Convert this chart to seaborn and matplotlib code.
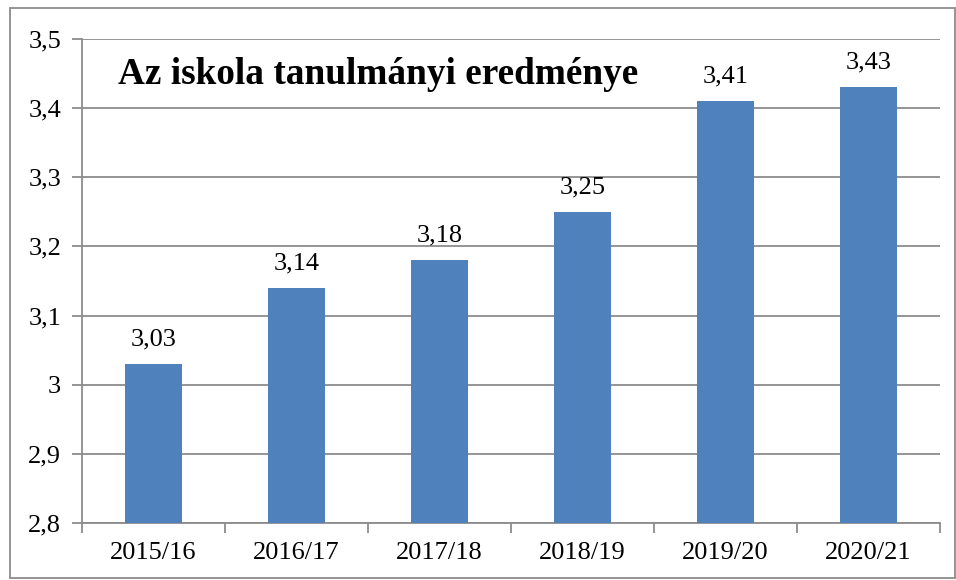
import matplotlib
matplotlib.use("Agg")
import matplotlib.pyplot as plt
import matplotlib.patches as mpatches
import seaborn as sns
import pandas as pd

years = ["2015/16", "2016/17", "2017/18", "2018/19", "2019/20", "2020/21"]
values = [3.03, 3.14, 3.18, 3.25, 3.41, 3.43]
y_ticks = [2.8, 2.9, 3.0, 3.1, 3.2, 3.3, 3.4, 3.5]
y_tick_labels = ["2,8", "2,9", "3", "3,1", "3,2", "3,3", "3,4", "3,5"]
title = "Az iskola tanulmányi eredménye"

sns.set_theme(style="white")
plt.rcParams["font.family"] = ["Liberation Serif", "DejaVu Serif"]

df = pd.DataFrame({"year": years, "value": values})

fig = plt.figure(figsize=(9.56, 5.8), dpi=100)
ax = fig.add_axes([82/956, 1-523/580, (940-82)/956, (523-39)/580])

grid_c = "#8c8c8c"
sns.barplot(data=df, x="year", y="value", color="#4F81BD", saturation=1,
            width=0.395, ax=ax, zorder=3, linewidth=0)

ax.set_ylim(2.8, 3.5)
ax.set_xlim(-0.5, len(years) - 0.5)
ax.set_yticks(y_ticks)
ax.set_yticklabels(y_tick_labels)
for y in y_ticks:
    ax.axhline(y, color=grid_c, lw=1.3, zorder=1)

ax.set_xticks(range(len(years)))
ax.set_xticklabels(years)
ax.set_xticks([i - 0.5 for i in range(len(years) + 1)], minor=True)
ax.tick_params(axis="x", which="major", length=0, labelsize=19, pad=14, colors="black")
ax.tick_params(axis="x", which="minor", length=7, width=1.3, color=grid_c, direction="out")
ax.tick_params(axis="y", which="major", length=7, width=1.3, color=grid_c,
               direction="out", labelsize=19, pad=8, labelcolor="black")
ax.tick_params(axis="both", bottom=True, left=True)
ax.xaxis.set_tick_params(which="minor", bottom=True)

for s in ["top", "right"]:
    ax.spines[s].set_visible(False)
for s in ["left", "bottom"]:
    ax.spines[s].set_color(grid_c)
    ax.spines[s].set_linewidth(1.3)
ax.set_xlabel("")
ax.set_ylabel("")

for i, v in enumerate(values):
    ax.text(i, v + 0.02, f"{v:.2f}".replace(".", ","), ha="center", va="bottom",
            fontsize=19, color="black", zorder=4)

ax.text(0.042, 0.927, title, transform=ax.transAxes, ha="left", va="center",
        fontsize=26.8, fontweight="bold", color="black", zorder=5)

fig.patches.append(mpatches.Rectangle((10/956, 1-578/580), (955-10)/956, (578-8)/580,
                                      transform=fig.transFigure, fill=False,
                                      edgecolor="#8c8c8c", lw=1.3))

fig.savefig("out.png", dpi=100, facecolor="white")
